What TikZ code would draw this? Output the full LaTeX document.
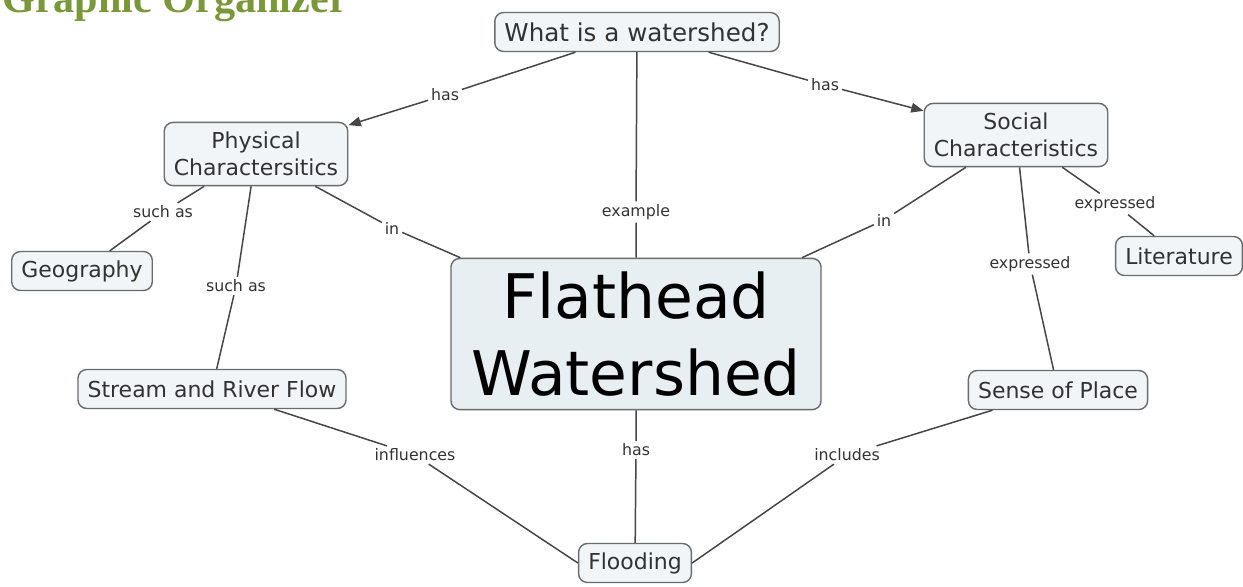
\documentclass[tikz,border=0pt]{standalone}
\usepackage{fontspec}
\setmainfont{DejaVu Sans}
\newfontfamily\titlefont{Liberation Serif}
\usetikzlibrary{arrows.meta}
\definecolor{frame}{RGB}{105, 108, 110}
\definecolor{paper}{RGB}{241, 245, 247}
\definecolor{paperdark}{RGB}{232, 239, 243}
\definecolor{ink}{RGB}{50, 50, 50}
\definecolor{wire}{RGB}{70, 70, 70}
\definecolor{olive}{RGB}{122, 152, 58}

\begin{document}
\begin{tikzpicture}[x=0.02cm,y=-0.02cm,>={Triangle[length=7pt,width=5.5pt]},
    concept/.style={draw=frame,line width=0.8pt,rounded corners=5pt,fill=paper,text=ink,align=center,
      font=\fontsize{12.5}{15.3}\selectfont,inner xsep=5.5pt,inner ysep=4pt,minimum height=0.78cm},
    twoline/.style={inner ysep=5.5pt},
    linkword/.style={font=\fontsize{9}{10}\selectfont,text=ink,inner sep=1.5pt},
    link/.style={draw=wire,line width=0.85pt}]
  \useasboundingbox (0,0) rectangle (1243,586);
  \clip (0,0) rectangle (1243,586);
  \node[anchor=base west,font={\titlefont\bfseries\fontsize{24}{28}\selectfont},text=olive] (title) at (-4,12) {Graphic Organizer};

  \node[concept,font=\fontsize{14}{17}\selectfont,inner ysep=3pt] (question) at (637,32) {What is a watershed?};
  \node[concept,twoline] (physical) at (256,154) {Physical\\Charactersitics};
  \node[concept,twoline] (social) at (1016,135) {Social\\Characteristics};
  \node[concept] (geography) at (82,271) {Geography};
  \node[concept] (literature) at (1179,256) {Literature};
  \node[concept,fill=paperdark,text=black,font=\fontsize{35}{44}\selectfont,inner xsep=11.5pt,inner ysep=7.5pt] (flathead) at (636,334) {Flathead\\Watershed};
  \node[concept] (stream) at (212,389) {Stream and River Flow};
  \node[concept] (sense) at (1058,390) {Sense of Place};
  \node[concept] (flooding) at (635,563) {Flooding};

  \node[linkword] (hasL) at (445,95) {has};
  \node[linkword] (hasR) at (825,85) {has};
  \node[linkword] (example) at (636,212) {example};
  \node[linkword] (suchasA) at (163,212) {such as};
  \node[linkword] (suchasB) at (236,286) {such as};
  \node[linkword] (inL) at (392,228) {in};
  \node[linkword] (inR) at (884,220) {in};
  \node[linkword] (exprA) at (1030,264) {expressed};
  \node[linkword] (exprB) at (1115,204) {expressed};
  \node[linkword] (influences) at (415,455) {influences};
  \node[linkword] (includes) at (847,455) {includes};
  \node[linkword] (hasB) at (636,450) {has};

  \draw[link] (question) -- (hasL);
  \draw[link,->] (hasL) -- (physical);
  \draw[link] (question) -- (hasR);
  \draw[link,->] (hasR) -- (social);
  \draw[link] (question) -- (example) -- (flathead);
  \draw[link] (physical) -- (suchasA) -- (geography);
  \draw[link] (physical) -- (suchasB) -- (stream);
  \draw[link] (physical) -- (inL) -- (flathead);
  \draw[link] (social) -- (inR) -- (flathead);
  \draw[link] (social) -- (exprA) -- (sense);
  \draw[link] (social) -- (exprB) -- (literature);
  \draw[link] (stream) -- (influences) -- (flooding.west);
  \draw[link] (sense) -- (includes) -- (flooding.east);
  \draw[link] (flathead) -- (hasB) -- (flooding);
\end{tikzpicture}
\end{document}
